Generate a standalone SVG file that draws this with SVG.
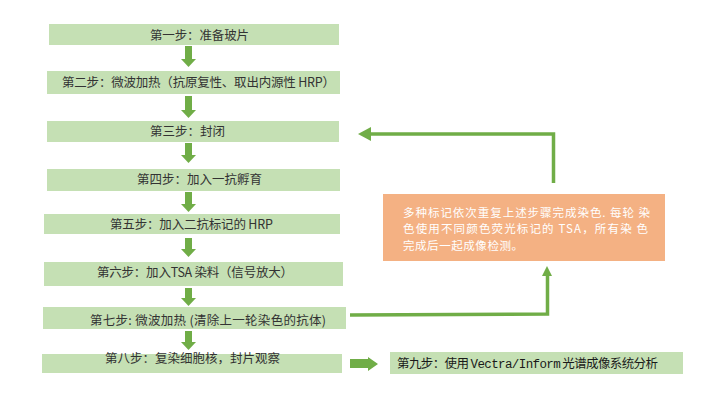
<svg xmlns="http://www.w3.org/2000/svg" width="715" height="404" viewBox="0 0 715 404">
<style>
.box{fill:#C5E0B4}
.t{font-family:"Noto Sans CJK SC","Liberation Sans",sans-serif;font-size:12.5px;fill:#333333}
.w{font-family:"Noto Sans CJK SC","Liberation Sans",sans-serif;font-size:11.5px;fill:#FFFFFF}
.m{font-family:"Liberation Mono","Noto Sans CJK SC",monospace}
.arr{fill:#70AD47}
.ln{fill:none;stroke:#70AD47;stroke-width:3.5}
</style>
<rect width="715" height="404" fill="#FFFFFF"/>
<g id="step1"><rect class="box" x="49" y="24" width="290" height="21"/><text class="t" x="150" y="39.5" textLength="99">第一步：准备玻片</text></g>
<g id="step2"><rect class="box" x="47" y="71" width="293" height="23"/><text class="t" x="62" y="86.5" textLength="273">第二步：微波加热（抗原复性、取出内源性 HRP）</text></g>
<g id="step3"><rect class="box" x="47" y="121" width="292" height="21"/><text class="t" x="150" y="135.5" textLength="75">第三步：封闭</text></g>
<g id="step4"><rect class="box" x="47" y="169" width="293" height="22"/><text class="t" x="137" y="183.5" textLength="125">第四步：加入一抗孵育</text></g>
<g id="step5"><rect class="box" x="44" y="214" width="296" height="20"/><text class="t" x="110" y="228.5" textLength="163">第五步：加入二抗标记的 HRP</text></g>
<g id="step6"><rect class="box" x="44" y="262" width="299" height="24"/><text class="t" x="97" y="276.5" textLength="196">第六步：加入TSA 染料（信号放大）</text></g>
<g id="step7"><rect class="box" x="43" y="307" width="303" height="22"/><text class="t" x="90" y="324.5" textLength="236">第七步: 微波加热 (清除上一轮染色的抗体)</text></g>
<g id="step8"><rect class="box" x="42" y="354" width="300" height="19"/><text class="t" x="105" y="362.5" textLength="175">第八步：复染细胞核，封片观察</text></g>
<g id="step9"><rect class="box" x="390" y="352" width="293" height="22"/><text class="t" x="397" y="367.5" textLength="261" style="fill:#1a1a1a">第九步：使用 <tspan class="m">Vectra/Inform</tspan> 光谱成像系统分析</text></g>
<g id="note"><rect x="383" y="194" width="282" height="67" fill="#F4B183"/>
<text class="w" x="403" y="216.5" textLength="247">多种标记依次重复上述步骤完成染色. 每轮 染</text>
<text class="w" x="403" y="233" textLength="245">色使用不同颜色荧光标记的 TSA，所有染 色</text>
<text class="w" x="403" y="249.5" textLength="120">完成后一起成像检测。</text>
</g>
<g id="connectors">
<polygon class="arr" points="185,46 192,46 192,59 196,59 188.5,67 181,59 185,59"/>
<polygon class="arr" points="185,96 192,96 192,110 196,110 188.5,118 181,110 185,110"/>
<polygon class="arr" points="185,143 192,143 192,155 196,155 188.5,163 181,155 185,155"/>
<polygon class="arr" points="185,192 192,192 192,204 196,204 188.5,212 181,204 185,204"/>
<polygon class="arr" points="185,238 192,238 192,249 196,249 188.5,257 181,249 185,249"/>
<polygon class="arr" points="185,288 192,288 192,298 196,298 188.5,306 181,298 185,298"/>
<polygon class="arr" points="185,331 192,331 192,342 196,342 188.5,350 181,342 185,342"/>
<polygon class="arr" points="350,359 368,359 368,357 378,364 368,371 368,368 350,368"/>
<polyline class="ln" points="350,315 547.5,314 547.5,275"/>
<polygon class="arr" points="547,266 542,276 552,276"/>
<polyline class="ln" points="553.5,183 553.5,134 370,134"/>
<polygon class="arr" points="358,134 371,127 371,141"/>
</g>
</svg>
